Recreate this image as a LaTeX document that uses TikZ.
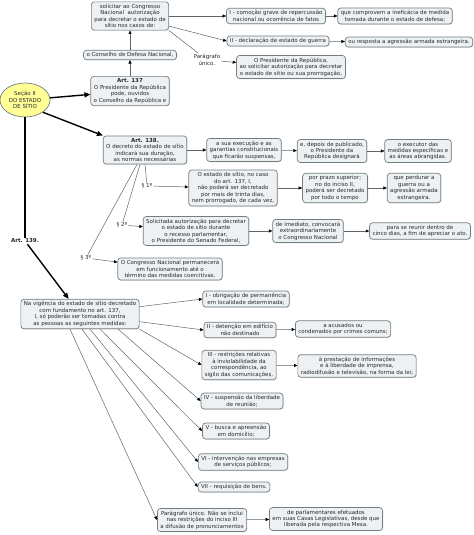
\documentclass[tikz,border=0pt]{standalone}
\usepackage{fontspec}
\setmainfont{DejaVu Sans}
\usetikzlibrary{arrows.meta,positioning,shapes.geometric,shadows}
\definecolor{boxfill}{RGB}{237,241,244}
\definecolor{boxline}{RGB}{115,125,130}
\definecolor{sun}{RGB}{255,255,150}
\definecolor{ink}{RGB}{40,40,45}
\definecolor{wire}{RGB}{100,100,100}
\tikzset{
  box/.style={draw=boxline,fill=boxfill,rounded corners=3pt,line width=0.7pt,
    inner xsep=3pt,inner ysep=2.3pt,align=center,text=ink,
    font=\fontsize{5.5}{6.5}\selectfont,
    drop shadow={opacity=0.2,shadow xshift=0.8pt,shadow yshift=-0.8pt}},
  tag/.style={inner sep=1pt,align=center,text=ink,font=\fontsize{5.5}{6.5}\selectfont},
  section/.style={ellipse,draw=boxline,fill=sun,line width=0.7pt,inner sep=0pt,
    minimum width=50bp,minimum height=34bp,align=center,text=ink,
    font=\fontsize{5.5}{6.5}\selectfont},
  link/.style={draw=wire,line width=0.5pt,-{Triangle[length=3.5pt,width=3pt,color=black]}},
  plain/.style={draw=wire,line width=0.5pt},
  main/.style={draw=black,line width=1.4pt,-{Triangle[length=6pt,width=5pt]}},
}
\begin{document}
\begin{tikzpicture}[x=1bp,y=-1bp]
  \useasboundingbox (0,0) rectangle (474,535);
  % Art. 137
  \node[section] (secao) at (25,100) {Seção II\\DO ESTADO\\DE SÍTIO};
  \node[box] (top) at (130,16) {solicitar ao Congresso\\Nacional\ \ autorização\\para decretar o estado de\\sítio nos casos de:};
  \node[box] (cdn) at (130,55) {o Conselho de Defesa Nacional,};
  \node[box] (art137) at (130,91) {\textbf{Art. 137}\\O Presidente da República\\pode, ouvidos\\o Conselho da República e};
  \node[box] (incI) at (276,16) {I - comoção grave de repercussão\\nacional ou ocorrência de fatos};
  \node[box] (comprovem) at (395,16) {que comprovem a ineficácia de medida\\tomada durante o estado de defesa;};
  \node[box] (incII) at (278,41) {II - declaração de estado de guerra};
  \node[box] (resposta) at (409,42) {ou resposta a agressão armada estrangeira.};
  \node[tag] (pu1) at (207,60) {Parágrafo\\único.};
  \node[box] (presid) at (291,67) {O Presidente da República,\\ao solicitar autorização para decretar\\o estado de sítio ou sua prorrogação,};
  % Art. 138
  \node[box] (art138) at (145,150) {\textbf{Art. 138.}\\O decreto do estado de sítio\\indicará sua duração,\\as normas necessárias};
  \node[box] (execucao) at (244,150) {a sua execução e as\\garantias constitucionais\\que ficarão suspensas,};
  \node[box] (depois) at (332,151) {e, depois de publicado,\\o Presidente da\\República designará};
  \node[box] (executor) at (418,151) {o executor das\\medidas específicas e\\as áreas abrangidas.};
  \node[tag] (par1) at (147,186) {§ 1º};
  \node[box] (trinta) at (233,188) {O estado de sítio, no caso\\do art. 137, I,\\não poderá ser decretado\\por mais de trinta dias,\\nem prorrogado, de cada vez,};
  \node[box] (prazo) at (335,188) {por prazo superior;\\no do inciso II,\\poderá ser decretado\\por todo o tempo};
  \node[box] (perdurar) at (414,188) {que perdurar a\\guerra ou a\\agressão armada\\estrangeira.};
  \node[tag] (par2) at (122,225) {§ 2º};
  \node[box] (solicitada) at (196,231) {Solicitada autorização para decretar\\o estado de sítio durante\\o recesso parlamentar,\\o Presidente do Senado Federal,};
  \node[box] (imediato) at (308,231) {de imediato, convocará\\extraordinariamente\\o Congresso Nacional};
  \node[box] (reunir) at (420,231) {para se reunir dentro de\\cinco dias, a fim de apreciar o ato.};
  \node[tag] (par3) at (86,258) {§ 3º};
  \node[box] (congresso) at (170,269) {O Congresso Nacional permanecerá\\em funcionamento até o\\término das medidas coercitivas.};
  % Art. 139
  \node[tag,font=\fontsize{5.5}{6.5}\selectfont\bfseries] (art139) at (25,241) {Art. 139.};
  \node[box] (vigencia) at (80,314) {Na vigência do estado de sítio decretado\\com fundamento no art. 137,\\I, só poderão ser tomadas contra\\as pessoas as seguintes medidas:};
  \node[box] (mI) at (246,299) {I - obrigação de permanência\\em localidade determinada;};
  \node[box] (mII) at (240,330) {II - detenção em edifício\\não destinado};
  \node[box] (acusados) at (343,329) {a acusados ou\\condenados por crimes comuns;};
  \node[box] (mIII) at (239,365) {III - restrições relativas\\à inviolabilidade da\\correspondência, ao\\sigilo das comunicações,};
  \node[box] (prestacao) at (357,366) {à prestação de informações\\e à liberdade de imprensa,\\radiodifusão e televisão, na forma da lei;};
  \node[box] (mIV) at (242,401) {IV - suspensão da liberdade\\de reunião;};
  \node[box] (mV) at (236,431) {V - busca e apreensão\\em domicílio;};
  \node[box] (mVI) at (243,462) {VI - intervenção nas empresas\\de serviços públicos;};
  \node[box] (mVII) at (234,487) {VII - requisição de bens.};
  \node[box] (pu2) at (202,520) {Parágrafo único. Não se inclui\\nas restrições do inciso III\\a difusão de pronunciamentos};
  \node[box] (parlamentares) at (326,519) {de parlamentares efetuados\\em suas Casas Legislativas, desde que\\liberada pela respectiva Mesa.};

  \draw[main] (secao) -- (art137);
  \draw[main] (secao.south east) -- (art138.north west);
  \draw[line width=1.4pt] (secao.south) -- (art139.north);
  \draw[main] (art139) -- (vigencia);

  \draw[link] (art137) -- (cdn);
  \draw[link] (cdn) -- (top);
  \draw[link] (top.east) -- (incI);
  \draw[link] (top) -- (incII.west);
  \draw[plain] (top.south east) -- (pu1);
  \draw[link] (pu1) -- (presid);
  \draw[link] (incI) -- (comprovem);
  \draw[link] (incII) -- (resposta);

  \draw[link] (art138) -- (execucao);
  \draw[link] (execucao) -- (depois);
  \draw[link] (depois) -- (executor);
  \draw[plain] (art138.south) -- (par1);
  \draw[plain] ([xshift=-5bp]art138.south) -- (par2);
  \draw[plain] ([xshift=-8bp]art138.south) -- (par3);
  \draw[link] (par1) -- (trinta);
  \draw[link] (trinta) -- (prazo);
  \draw[link] (prazo) -- (perdurar);
  \draw[link] (par2) -- (solicitada);
  \draw[link] (solicitada) -- (imediato);
  \draw[link] (imediato) -- (reunir);
  \draw[link] (par3) -- (congresso);

  \draw[link] (vigencia) -- (mI.west);
  \draw[link] (vigencia) -- (mII.west);
  \draw[link] (vigencia.south east) -- (mIII.west);
  \draw[link] ([xshift=38bp]vigencia.south) -- (mIV.west);
  \draw[link] ([xshift=20bp]vigencia.south) -- (mV.west);
  \draw[link] ([xshift=10bp]vigencia.south) -- (mVI.west);
  \draw[link] ([xshift=2bp]vigencia.south) -- (mVII.west);
  \draw[link] ([xshift=-10bp]vigencia.south) -- (pu2.west);
  \draw[link] (mII) -- (acusados);
  \draw[link] (mIII) -- (prestacao);
  \draw[link] (pu2) -- (parlamentares);
\end{tikzpicture}
\end{document}
